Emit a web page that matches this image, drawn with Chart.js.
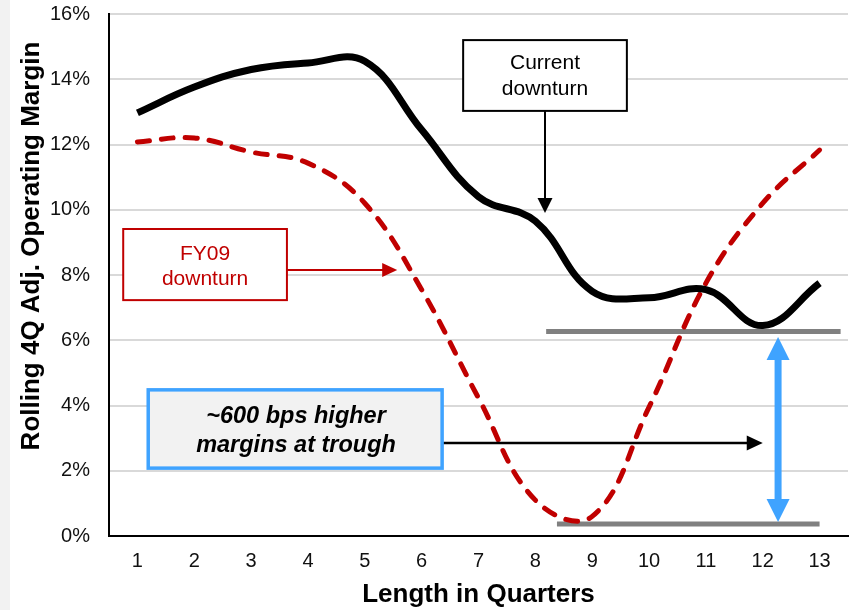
<!DOCTYPE html>
<html>
<head>
<meta charset="utf-8">
<script src="https://cdn.jsdelivr.net/npm/chart.js@4.4.1/dist/chart.umd.min.js"></script>
<style>
  html, body { margin: 0; padding: 0; background: #fff; }
  #wrap { position: relative; width: 857px; height: 610px; }
</style>
</head>
<body>
<div id="wrap"><canvas id="chart" width="857" height="610"></canvas></div>
<script>
// data
const quarters = ['1', '2', '3', '4', '5', '6', '7', '8', '9', '10', '11', '12', '13'];
const currentDownturn = [12.97, 13.76, 14.3, 14.5, 14.55, 12.45, 10.4, 9.65, 7.5, 7.3, 7.55, 6.45, 7.75];
const fy09Downturn = [12.08, 12.2, 11.77, 11.43, 10.2, 7.55, 4.23, 1.1, 0.6, 3.95, 7.75, 10.2, 11.83];
const yTickLabels = ['0%', '2%', '4%', '6%', '8%', '10%', '12%', '14%', '16%'];

const FONT = 'Arial, "Liberation Sans", sans-serif';
const BLUE = '#3fa3ff';
const RED = '#c00000';

// annotation placement in data units (x = category index, y = percent)
const currentNote = { x0: 5.73, x1: 8.61, y0: 15.2, y1: 13.03, tx: 7.17, ty: [14.5, 13.7], tip: 9.9 };
const fy09Note = { x0: -0.25, x1: 2.63, y0: 9.41, y1: 7.23, tx: 1.19, ty: [8.64, 7.88], ay: 8.15, tip: 4.57 };
const troughNote = { x0: 0.19, x1: 5.36, y0: 4.48, y1: 2.08, tx: 2.79, ty: [3.65, 2.76], ay: 2.85, tip: 11.0 };
const currentTrough = { x0: 7.19, x1: 12.37, y: 6.27 };
const fy09Trough = { x0: 7.38, x1: 12.0, y: 0.37 };
const gapArrow = { x: 11.27, top: 6.1, bottom: 0.43 };

function head(ctx, x, y, ang, len, w, color) {
  ctx.save();
  ctx.translate(x, y);
  ctx.rotate(ang);
  ctx.fillStyle = color;
  ctx.beginPath();
  ctx.moveTo(0, 0);
  ctx.lineTo(-len, -w / 2);
  ctx.lineTo(-len, w / 2);
  ctx.closePath();
  ctx.fill();
  ctx.restore();
}

function box(ctx, X, Y, n, stroke, fill, lw) {
  const l = X(n.x0), r = X(n.x1), t = Y(n.y0), b = Y(n.y1);
  ctx.fillStyle = fill;
  ctx.fillRect(l, t, r - l, b - t);
  ctx.strokeStyle = stroke;
  ctx.lineWidth = lw;
  ctx.strokeRect(l, t, r - l, b - t);
}

function lines(ctx, X, Y, n, txt, font, color) {
  ctx.font = font;
  ctx.fillStyle = color;
  ctx.textAlign = 'center';
  ctx.textBaseline = 'middle';
  txt.forEach((s, i) => ctx.fillText(s, X(n.tx), Y(n.ty[i])));
}

const annotations = {
  id: 'annotations',
  beforeDraw(chart) {
    const ctx = chart.ctx;
    ctx.save();
    ctx.fillStyle = '#f2f2f2';
    ctx.fillRect(0, 0, 10, chart.height);
    ctx.restore();
  },
  beforeDatasetsDraw(chart) {
    const ctx = chart.ctx;
    const X = v => chart.scales.x.getPixelForValue(v);
    const Y = v => chart.scales.y.getPixelForValue(v);
    ctx.save();
    ctx.strokeStyle = '#808080';
    ctx.lineWidth = 5;
    [currentTrough, fy09Trough].forEach(g => {
      ctx.beginPath();
      ctx.moveTo(X(g.x0), Y(g.y));
      ctx.lineTo(X(g.x1), Y(g.y));
      ctx.stroke();
    });
    ctx.restore();
  },
  afterDatasetsDraw(chart) {
    const ctx = chart.ctx;
    const X = v => chart.scales.x.getPixelForValue(v);
    const Y = v => chart.scales.y.getPixelForValue(v);
    ctx.save();

    // blue double arrow between the two troughs
    const bx = X(gapArrow.x), bt = Y(gapArrow.top), bb = Y(gapArrow.bottom);
    ctx.strokeStyle = BLUE;
    ctx.lineWidth = 7;
    ctx.beginPath();
    ctx.moveTo(bx, bt + 20);
    ctx.lineTo(bx, bb - 20);
    ctx.stroke();
    head(ctx, bx, bt, -Math.PI / 2, 23, 23, BLUE);
    head(ctx, bx, bb, Math.PI / 2, 23, 23, BLUE);

    // current downturn
    box(ctx, X, Y, currentNote, '#000', '#fff', 2);
    lines(ctx, X, Y, currentNote, ['Current', 'downturn'], '21px ' + FONT, '#000');
    ctx.strokeStyle = '#000';
    ctx.lineWidth = 2;
    ctx.beginPath();
    ctx.moveTo(X(currentNote.tx), Y(currentNote.y1));
    ctx.lineTo(X(currentNote.tx), Y(currentNote.tip) - 12);
    ctx.stroke();
    head(ctx, X(currentNote.tx), Y(currentNote.tip), Math.PI / 2, 15, 15, '#000');

    // FY09 downturn
    box(ctx, X, Y, fy09Note, RED, '#fff', 2);
    lines(ctx, X, Y, fy09Note, ['FY09', 'downturn'], '21px ' + FONT, RED);
    ctx.strokeStyle = RED;
    ctx.lineWidth = 2;
    ctx.beginPath();
    ctx.moveTo(X(fy09Note.x1), Y(fy09Note.ay));
    ctx.lineTo(X(fy09Note.tip) - 12, Y(fy09Note.ay));
    ctx.stroke();
    head(ctx, X(fy09Note.tip), Y(fy09Note.ay), 0, 15, 14, RED);

    // trough gap call-out
    ctx.strokeStyle = '#000';
    ctx.lineWidth = 2.5;
    ctx.beginPath();
    ctx.moveTo(X(troughNote.x1), Y(troughNote.ay));
    ctx.lineTo(X(troughNote.tip) - 12, Y(troughNote.ay));
    ctx.stroke();
    head(ctx, X(troughNote.tip), Y(troughNote.ay), 0, 16, 15, '#000');
    box(ctx, X, Y, troughNote, BLUE, '#f2f2f2', 3.5);
    lines(ctx, X, Y, troughNote, ['~600 bps higher', 'margins at trough'], 'italic bold 23.5px ' + FONT, '#000');

    ctx.restore();
  },
  afterDraw(chart) {
    const ctx = chart.ctx;
    ctx.save();
    ctx.translate(32, 246);
    ctx.rotate(-Math.PI / 2);
    ctx.font = 'bold 26px ' + FONT;
    ctx.fillStyle = '#000';
    ctx.textAlign = 'center';
    ctx.textBaseline = 'middle';
    ctx.fillText('Rolling 4Q Adj. Operating Margin', 0, 0);
    ctx.restore();
  }
};

new Chart(document.getElementById('chart'), {
  type: 'line',
  data: {
    labels: quarters,
    datasets: [
      {
        label: 'Current downturn',
        data: currentDownturn,
        borderColor: '#000',
        borderWidth: 7,
        tension: 0.4,
        pointRadius: 0,
        fill: false
      },
      {
        label: 'FY09 downturn',
        data: fy09Downturn,
        borderColor: RED,
        borderWidth: 5,
        borderDash: [12, 12],
        borderCapStyle: 'round',
        tension: 0.4,
        pointRadius: 0,
        fill: false
      }
    ]
  },
  options: {
    responsive: false,
    animation: false,
    layout: { padding: { top: 14, right: 9, left: 0, bottom: 0 } },
    plugins: {
      legend: { display: false },
      tooltip: { enabled: false }
    },
    scales: {
      x: {
        offset: true,
        grid: { display: false, drawTicks: false },
        border: { display: true, color: '#000', width: 2 },
        ticks: { color: '#111', font: { family: FONT, size: 20 }, padding: 13, maxRotation: 0 },
        title: {
          display: true,
          text: 'Length in Quarters',
          color: '#000',
          font: { family: FONT, size: 26, weight: 'bold' },
          padding: { top: 0, bottom: 0 }
        },
        afterFit(scale) { scale.height = 74; }
      },
      y: {
        min: 0,
        max: 16,
        grid: { color: '#d9d9d9', lineWidth: 2, drawTicks: false },
        border: { display: true, color: '#000', width: 2 },
        ticks: {
          stepSize: 2,
          color: '#111',
          padding: 19,
          font: { family: FONT, size: 20 },
          callback: (v, i) => yTickLabels[i]
        },
        afterFit(scale) {
          scale.width = 109;
          scale.paddingTop = 0;
          scale.paddingBottom = 0;
        }
      }
    }
  },
  plugins: [annotations]
});
</script>
</body>
</html>
